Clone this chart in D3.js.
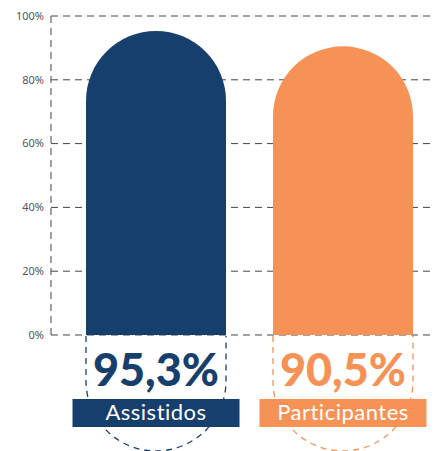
<!DOCTYPE html>
<html>
<head>
<meta charset="utf-8">
<script src="https://cdn.jsdelivr.net/npm/d3@7"></script>
<style>
  body { margin: 0; background: #fff; }
  svg { display: block; }
</style>
</head>
<body>
<div id="chart"></div>
<script>
var categories = ["Assistidos", "Participantes"];
var values = [95.3, 90.5];
var valueLabels = ["95,3%", "90,5%"];
var colors = ["#173f6d", "#f69256"];
var ticks = [0, 20, 40, 60, 80, 100];

var width = 435, height = 451;
var svg = d3.select("#chart").append("svg")
  .attr("width", width)
  .attr("height", height);

var y = d3.scaleLinear().domain([0, 100]).range([335, 16]);
var x = d3.scaleBand().domain(categories).range([86, 413])
  .paddingInner(0.2513).paddingOuter(0);
var bw = x.bandwidth(), r = bw / 2;

// grid
svg.append("g").selectAll("line")
  .data(ticks)
  .enter().append("line")
  .attr("x1", 51).attr("x2", width)
  .attr("y1", function (d) { return y(d); })
  .attr("y2", function (d) { return y(d); })
  .attr("stroke", "#444")
  .attr("stroke-width", 1)
  .attr("stroke-dasharray", "7,5");

svg.append("line")
  .attr("x1", 51).attr("x2", 51)
  .attr("y1", y(100)).attr("y2", y(0))
  .attr("stroke", "#444")
  .attr("stroke-dasharray", "7,5");

svg.append("g").selectAll("text")
  .data(ticks)
  .enter().append("text")
  .attr("x", 44)
  .attr("y", function (d) { return y(d); })
  .attr("dy", "0.35em")
  .attr("text-anchor", "end")
  .attr("font-family", "'Noto Sans', sans-serif")
  .attr("font-size", 11)
  .attr("fill", "#555")
  .text(function (d) { return d + "%"; });

var data = categories.map(function (c, i) {
  return { name: c, value: values[i], label: valueLabels[i], color: colors[i] };
});

// bars with rounded top
svg.append("g").selectAll("path")
  .data(data)
  .enter().append("path")
  .attr("fill", function (d) { return d.color; })
  .attr("d", function (d) {
    var x0 = x(d.name), top = y(d.value), base = y(0);
    return "M" + x0 + "," + base +
      "V" + (top + r) +
      "A" + r + "," + r + " 0 0 1 " + (x0 + bw) + "," + (top + r) +
      "V" + base + "Z";
  });

// dashed mirrored outline below
var cy = 381;
svg.append("g").selectAll("path")
  .data(data)
  .enter().append("path")
  .attr("fill", "none")
  .attr("stroke", function (d) { return d.color; })
  .attr("stroke-width", 1.3)
  .attr("stroke-dasharray", "6,5")
  .attr("d", function (d) {
    var x0 = x(d.name), base = y(0);
    return "M" + x0 + "," + (base + 1) +
      "V" + cy +
      "A" + r + "," + r + " 0 0 0 " + (x0 + bw) + "," + cy +
      "V" + (base + 1);
  });

// value labels
svg.append("g").selectAll("text")
  .data(data)
  .enter().append("text")
  .attr("x", function (d) { return x(d.name) + bw / 2; })
  .attr("y", 386)
  .attr("text-anchor", "middle")
  .attr("font-family", "Lato, sans-serif")
  .attr("font-weight", 900)
  .attr("font-size", 45)
  .attr("fill", function (d) { return d.color; })
  .text(function (d) { return d.label; });

// category boxes
var cats = svg.append("g").selectAll("g")
  .data(data)
  .enter().append("g");

cats.append("rect")
  .attr("x", function (d) { return x(d.name) + bw / 2 - 83.5; })
  .attr("y", 399)
  .attr("width", 167)
  .attr("height", 28)
  .attr("fill", function (d) { return d.color; });

cats.append("text")
  .attr("x", function (d) { return x(d.name) + bw / 2; })
  .attr("y", 420)
  .attr("text-anchor", "middle")
  .attr("font-family", "Lato, sans-serif")
  .attr("font-size", 22)
  .attr("letter-spacing", 0.5)
  .attr("fill", "#fff")
  .text(function (d) { return d.name; });
</script>
</body>
</html>
